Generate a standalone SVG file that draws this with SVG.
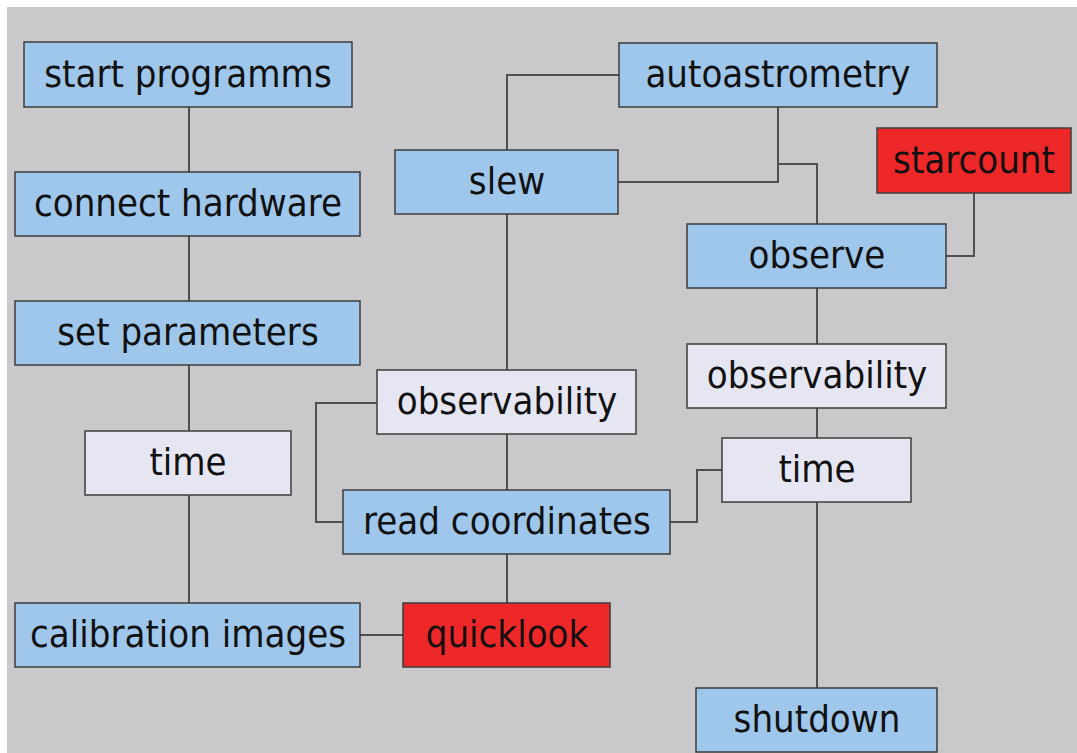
<svg xmlns="http://www.w3.org/2000/svg" width="1077" height="753" viewBox="0 0 1077 753">
<style>
.n rect{stroke:#3c3c3c;stroke-width:1.5}
.b rect{fill:#9fc7eb}
.r rect{fill:#ee2828}
.w rect{fill:#e6e6f3}
.n text{font-family:"DejaVu Sans Condensed","DejaVu Sans",sans-serif;font-stretch:condensed;font-size:38px;fill:#111;text-anchor:middle}
#connectors{fill:none;stroke:#505050;stroke-width:2}
</style>
<rect x="0" y="0" width="1077" height="753" fill="#ffffff"/>
<rect x="7" y="7" width="1070" height="746" fill="#c9c9cb"/>
<g id="connectors">
<line x1="189" y1="107" x2="189" y2="172"/>
<line x1="189" y1="236" x2="189" y2="301"/>
<line x1="189" y1="365" x2="189" y2="431"/>
<line x1="189" y1="495" x2="189" y2="603"/>
<line x1="360" y1="635" x2="403" y2="635"/>
<line x1="507" y1="554" x2="507" y2="603"/>
<line x1="507" y1="434" x2="507" y2="490"/>
<line x1="507" y1="214" x2="507" y2="370"/>
<polyline points="507,150 507,75 619,75"/>
<polyline points="377,403 316,403 316,522 343,522"/>
<polyline points="670,522 697,522 697,470 722,470"/>
<polyline points="618,182 778,182 778,107"/>
<polyline points="778,164 817,164 817,224"/>
<polyline points="974,193 974,256 946,256"/>
<line x1="817" y1="288" x2="817" y2="344"/>
<line x1="817" y1="408" x2="817" y2="438"/>
<line x1="817" y1="502" x2="817" y2="688"/>
</g>
<g id="n-start" class="n b"><rect x="24" y="42" width="328" height="65"/><text x="188" y="87">start programms</text></g>
<g id="n-connect" class="n b"><rect x="15" y="172" width="345" height="64"/><text x="188" y="216">connect hardware</text></g>
<g id="n-setparams" class="n b"><rect x="15" y="301" width="345" height="64"/><text x="188" y="345">set parameters</text></g>
<g id="n-time1" class="n w"><rect x="85" y="431" width="206" height="64"/><text x="188" y="475">time</text></g>
<g id="n-calib" class="n b"><rect x="15" y="603" width="345" height="64"/><text x="188" y="647">calibration images</text></g>
<g id="n-quicklook" class="n r"><rect x="403" y="603" width="207" height="64"/><text x="507" y="647">quicklook</text></g>
<g id="n-autoastro" class="n b"><rect x="619" y="43" width="318" height="64"/><text x="778" y="87">autoastrometry</text></g>
<g id="n-slew" class="n b"><rect x="395" y="150" width="223" height="64"/><text x="507" y="194">slew</text></g>
<g id="n-starcount" class="n r"><rect x="877" y="128" width="194" height="65"/><text x="974" y="173">starcount</text></g>
<g id="n-observe" class="n b"><rect x="687" y="224" width="259" height="64"/><text x="817" y="268">observe</text></g>
<g id="n-obs2" class="n w"><rect x="687" y="344" width="259" height="64"/><text x="817" y="388">observability</text></g>
<g id="n-obs1" class="n w"><rect x="377" y="370" width="259" height="64"/><text x="507" y="414">observability</text></g>
<g id="n-readcoord" class="n b"><rect x="343" y="490" width="327" height="64"/><text x="507" y="534">read coordinates</text></g>
<g id="n-time2" class="n w"><rect x="722" y="438" width="189" height="64"/><text x="817" y="482">time</text></g>
<g id="n-shutdown" class="n b"><rect x="696" y="688" width="241" height="64"/><text x="817" y="732">shutdown</text></g>
</svg>
